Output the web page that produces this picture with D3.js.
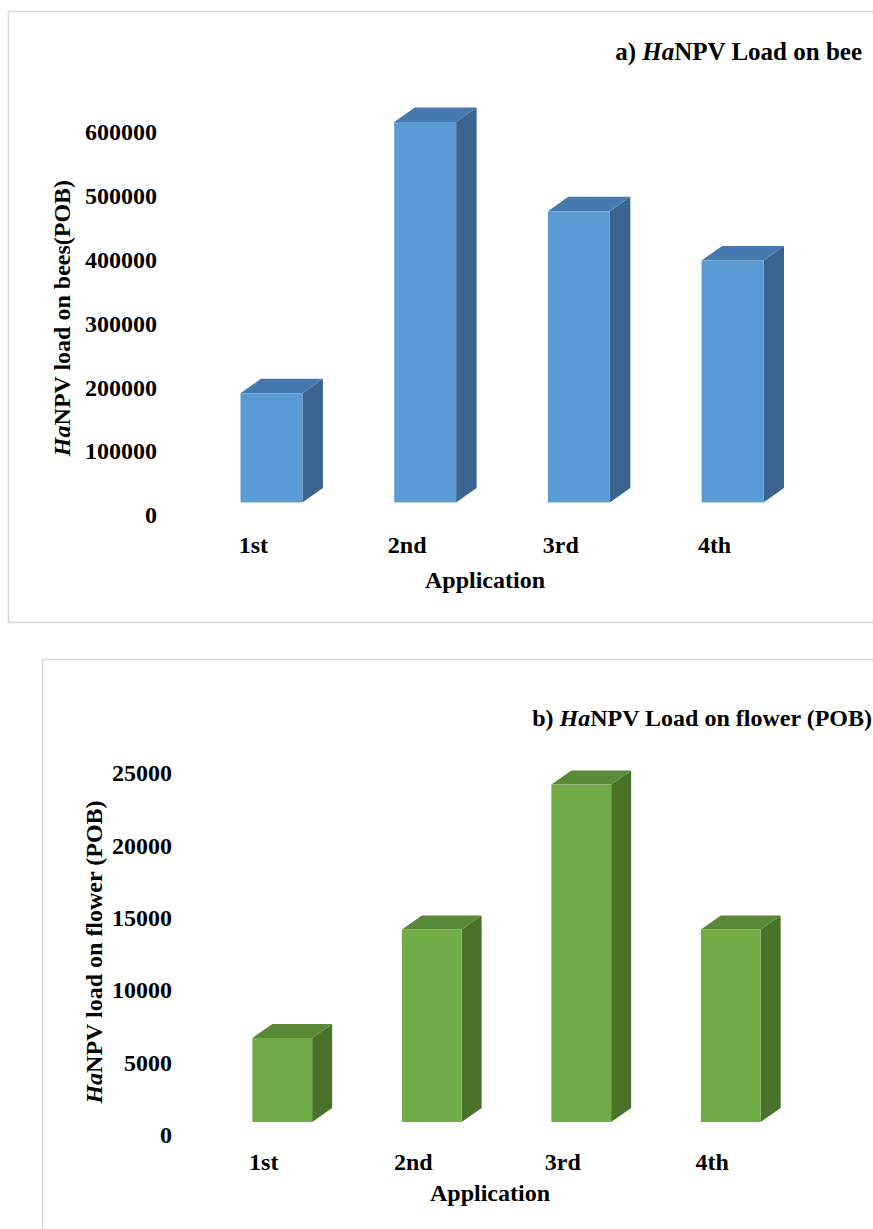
<!DOCTYPE html>
<html>
<head>
<meta charset="utf-8">
<script src="https://cdn.jsdelivr.net/npm/d3@7"></script>
<style>
  html, body { margin: 0; padding: 0; background: #ffffff; }
  svg { display: block; }
  text { font-family: "Liberation Serif", "Times New Roman", serif; font-weight: bold; fill: #000; }
</style>
</head>
<body>
<svg id="chart" width="873" height="1229"></svg>
<script>
// Application rounds shared by both panels
const categories = ["1st", "2nd", "3rd", "4th"];

// a) HaNPV load on bees (POB)
const beeLoad = [171000, 596000, 456000, 379000];
const beeTicks = [0, 100000, 200000, 300000, 400000, 500000, 600000];

// b) HaNPV load on flower (POB)
const flowerLoad = [5800, 13300, 23300, 13300];
const flowerTicks = [0, 5000, 10000, 15000, 20000, 25000];

const svg = d3.select("#chart");

// Draws one framed 3-D column panel
function drawPanel(cfg) {
  const g = svg.append("g");

  // frame
  g.append("rect")
    .attr("x", cfg.frame[0]).attr("y", cfg.frame[1])
    .attr("width", cfg.frame[2]).attr("height", cfg.frame[3])
    .attr("fill", "#fff").attr("stroke", "#d9d9d9").attr("stroke-width", 1.6);

  const x = d3.scaleBand().domain(categories).range(cfg.xRange).padding(0);
  const y = d3.scaleLinear().domain(cfg.yDomain).range(cfg.yRange);

  const w = x.bandwidth() * cfg.barRatio;
  const [ddx, ddy] = cfg.depth;          // extrusion vector
  const [fx, fy] = cfg.floorShift;       // bar front sits behind the floor edge
  const data = categories.map((c, i) => ({ c, v: cfg.values[i] }));

  const bars = g.append("g").selectAll("g").data(data).join("g");

  // front, top and side faces
  bars.each(function (d) {
    const x0 = x(d.c) + x.bandwidth() / 2 - w / 2 + fx;
    const x1 = x0 + w;
    const yt = y(d.v) + fy;
    const yb = y(0) + fy;
    const s = d3.select(this);
    s.append("path")
      .attr("d", `M${x1},${yt} L${x1 + ddx},${yt + ddy} L${x1 + ddx},${yb + ddy} L${x1},${yb} Z`)
      .attr("fill", cfg.colors.side);
    s.append("path")
      .attr("d", `M${x0},${yt} L${x0 + ddx},${yt + ddy} L${x1 + ddx},${yt + ddy} L${x1},${yt} Z`)
      .attr("fill", cfg.colors.top);
    s.append("rect")
      .attr("x", x0).attr("y", yt)
      .attr("width", w).attr("height", yb - yt)
      .attr("fill", cfg.colors.front);
  });

  // value axis
  const yAxis = g.append("g")
    .attr("transform", `translate(${cfg.yAxisX},0)`)
    .call(d3.axisLeft(y).tickValues(cfg.ticks).tickSize(0).tickPadding(0).tickFormat(d3.format("d")));
  yAxis.select(".domain").remove();
  yAxis.selectAll("text")
    .style("font-family", '"Liberation Serif", "Times New Roman", serif')
    .style("font-weight", "bold")
    .style("font-size", cfg.fontSize + "px")
    .attr("fill", "#000");

  // category axis
  const xAxis = g.append("g")
    .attr("transform", `translate(0,${cfg.xAxisY})`)
    .call(d3.axisBottom(x).tickSize(0).tickPadding(0));
  xAxis.select(".domain").remove();
  xAxis.selectAll("text")
    .attr("dy", "0.32em")
    .style("font-family", '"Liberation Serif", "Times New Roman", serif')
    .style("font-weight", "bold")
    .style("font-size", cfg.fontSize + "px")
    .attr("fill", "#000");

  // axis titles
  g.append("text")
    .attr("x", cfg.xTitle[0]).attr("y", cfg.xTitle[1])
    .attr("text-anchor", "middle").attr("dy", "0.32em")
    .style("font-size", cfg.fontSize + "px")
    .text("Application");

  const yt = g.append("text")
    .attr("transform", `translate(${cfg.yTitle[0]},${cfg.yTitle[1]}) rotate(-90)`)
    .attr("text-anchor", "middle").attr("dy", "0.32em")
    .style("font-size", cfg.fontSize + "px");
  yt.append("tspan").style("font-style", "italic").text("Ha");
  yt.append("tspan").text(cfg.yLabel);

  const tt = g.append("text")
    .attr("x", cfg.title[0]).attr("y", cfg.title[1])
    .attr("text-anchor", "end").attr("dy", "0.32em")
    .style("font-size", cfg.titleSize + "px");
  tt.append("tspan").text(cfg.titlePrefix);
  tt.append("tspan").style("font-style", "italic").text("Ha");
  tt.append("tspan").text(cfg.titleRest);
}

drawPanel({
  frame: [8.5, 11.5, 900, 611],
  values: beeLoad,
  ticks: beeTicks,
  yDomain: [0, 600000],
  yRange: [515, 132],
  xRange: [176.6, 791.4],
  barRatio: 0.403,
  depth: [20.5, -14.5],
  floorShift: [18, -12.6],
  yAxisX: 157,
  xAxisY: 545,
  xTitle: [485, 580],
  yTitle: [62, 318],
  yLabel: "NPV load on bees(POB)",
  title: [862, 52],
  titlePrefix: "a) ",
  titleRest: "NPV Load on bee",
  fontSize: 24,
  titleSize: 25,
  colors: { front: "#5b9bd5", top: "#4679b0", side: "#3b6591" }
});

drawPanel({
  frame: [42.5, 659.5, 900, 620],
  values: flowerLoad,
  ticks: flowerTicks,
  yDomain: [0, 25000],
  yRange: [1135, 773],
  xRange: [189, 787],
  barRatio: 0.4,
  depth: [20, -14],
  floorShift: [18.5, -13],
  yAxisX: 172,
  xAxisY: 1162,
  xTitle: [490, 1193],
  yTitle: [94, 952],
  yLabel: "NPV load on flower (POB)",
  title: [872, 718],
  titlePrefix: "b) ",
  titleRest: "NPV Load on flower (POB)",
  fontSize: 24,
  titleSize: 24,
  colors: { front: "#70ad47", top: "#5a8a38", side: "#4a7229" }
});
</script>
</body>
</html>
